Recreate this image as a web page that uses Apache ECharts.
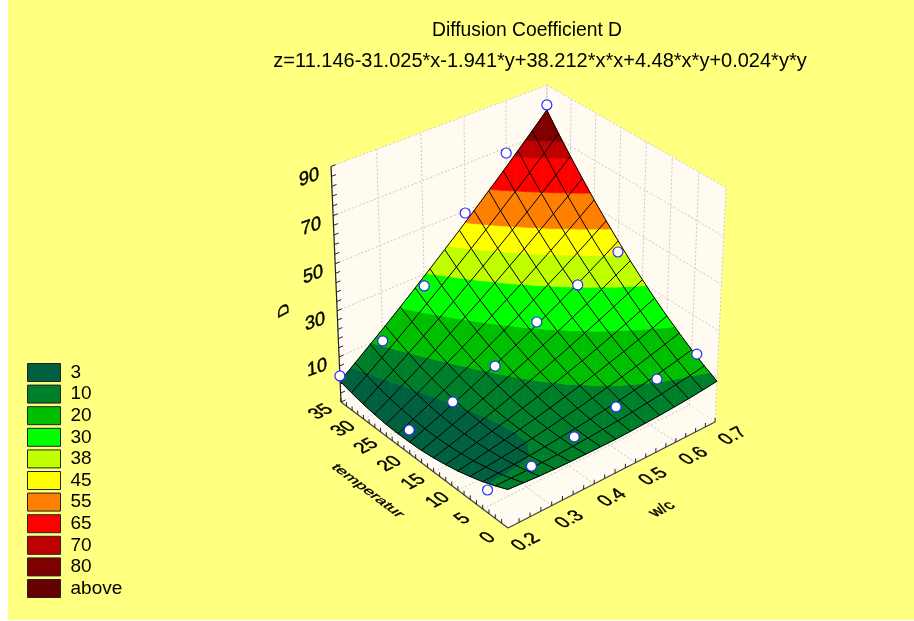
<!DOCTYPE html>
<html>
<head>
<meta charset="utf-8">
<title>Diffusion Coefficient D</title>
<script src="https://cdn.jsdelivr.net/npm/echarts@6/dist/echarts.min.js"></script>
<style>
html,body{margin:0;padding:0;background:#fff;overflow:hidden}
#chart{position:absolute;left:8px;top:0;width:906px;height:620px}
</style>
</head>
<body>
<div id="chart"></div>
<script>
var titleText = 'Diffusion Coefficient D';
var formulaText = 'z=11.146-31.025*x-1.941*y+38.212*x*x+4.48*x*y+0.024*y*y';

// surface read on the mesh: one row per temperatur, one column per w/c step
var meshWc = [0.2,0.2357,0.2714,0.3071,0.3429,0.3786,0.4143,0.45,0.4857,0.5214,0.5571,0.5929,0.6286,0.6643,0.7];
var meshTemp = [0,2.5,5,7.5,10,12.5,15,17.5,20,22.5,25,27.5,30,32.5,35];
var meshD = [
  [6.5,6.0,5.5,5.2,5.0,4.9,4.9,4.9,5.1,5.4,5.7,6.2,6.7,7.4,8.2],
  [4.0,3.9,3.9,4.0,4.1,4.4,4.8,5.3,5.8,6.5,7.3,8.1,9.1,10.1,11.3],
  [1.8,2.1,2.5,3.0,3.6,4.3,5.0,5.9,6.9,7.9,9.1,10.4,11.7,13.2,14.7],
  [0.0,0.7,1.5,2.3,3.3,4.4,5.6,6.8,8.2,9.7,11.2,12.9,14.7,16.5,18.5],
  [-1.6,-0.5,0.7,2.0,3.4,4.8,6.4,8.1,9.8,11.7,13.7,15.7,17.9,20.1,22.5],
  [-2.8,-1.4,0.2,1.9,3.7,5.6,7.5,9.6,11.8,14.0,16.4,18.9,21.4,24.1,26.8],
  [-3.8,-1.9,0.1,2.1,4.3,6.6,9.0,11.5,14.0,16.7,19.5,22.3,25.3,28.3,31.5],
  [-4.5,-2.2,0.2,2.7,5.3,7.9,10.7,13.6,16.6,19.6,22.8,26.0,29.4,32.9,36.4],
  [-4.8,-2.1,0.6,3.5,6.5,9.6,12.8,16.0,19.4,22.9,26.4,30.1,33.8,37.7,41.7],
  [-4.9,-1.8,1.4,4.7,8.0,11.5,15.1,18.8,22.5,26.4,30.4,34.4,38.6,42.8,47.2],
  [-4.7,-1.2,2.4,6.1,9.9,13.7,17.7,21.8,26.0,30.2,34.6,39.1,43.6,48.3,53.0],
  [-4.1,-0.2,3.8,7.8,12.0,16.3,20.7,25.1,29.7,34.4,39.1,44.0,49.0,54.0,59.2],
  [-3.3,1.0,5.4,9.9,14.5,19.1,23.9,28.8,33.7,38.8,44.0,49.2,54.6,60.1,65.6],
  [-2.1,2.5,7.3,12.2,17.2,22.3,27.4,32.7,38.1,43.5,49.1,54.8,60.5,66.4,72.3],
  [-0.7,4.4,9.6,14.8,20.2,25.7,31.3,37.0,42.7,48.6,54.6,60.6,66.8,73.0,79.4]
];

// measured points
var pointWc = [0.2,0.3,0.4,0.5,0.6,0.7];
var pointTemp = [4,20,35];
var pointD = [
  [-0.2,0.7,4.2,8.3,11.8,14.3],
  [0.5,3.9,11,22,30.2,36.9],
  [1.6,8.7,24.9,49.1,67.8,81.6]
];

var bandNames = ['3','10','20','30','38','45','55','65','70','80','above'];
var bandTops = [3,10,20,30,38,45,55,65,70,80,1000];
var bandColors = ['#006040','#007f2b','#00bf00','#00ff00','#bfff00','#ffff00','#ff8000','#ff0000','#bf0000','#800000','#660000'];

var wcTicks = [0.2,0.3,0.4,0.5,0.6,0.7];
var tempTicks = [0,5,10,15,20,25,30,35];
var dTicks = [10,30,50,70,90];
var wcRange = [0.2,0.7];
var tempRange = [0,35];
var dRange = [-10,90];

// camera: 3d box -> window pixels
function project(wc, temp, d) {
  var u = (wc - wcRange[0]) / (wcRange[1] - wcRange[0]);
  var v = (temp - tempRange[0]) / (tempRange[1] - tempRange[0]);
  var w = (d - dRange[0]) / (dRange[1] - dRange[0]);
  var h = 1 + 0.07 * u + 0.07 * v - 0.0569 * w;
  return [
    (508 + 257.05 * u - 143.13 * v - 29.5 * w) / h,
    (528 - 76.46 * u - 97.86 * v - 261.5 * w) / h
  ];
}

var font = '"Liberation Sans", Arial, sans-serif';
var FAINT = '#c8c8c8';

function polyFrom(api, pts, style) {
  return {
    type: 'polygon',
    shape: { points: pts.map(function(p){ return api.coord(project(p[0], p[1], p[2])); }) },
    style: style
  };
}
function lineFrom(api, a, b, stroke, width, dash) {
  var p = api.coord(project(a[0], a[1], a[2]));
  var q = api.coord(project(b[0], b[1], b[2]));
  return {
    type: 'line',
    shape: { x1: p[0], y1: p[1], x2: q[0], y2: q[1] },
    style: { stroke: stroke, lineWidth: width, lineDash: dash || null, fill: null }
  };
}

function renderBox(params, api) {
  var x0 = wcRange[0], x1 = wcRange[1], y0 = tempRange[0], y1 = tempRange[1], z0 = dRange[0], z1 = dRange[1];
  var wall = { fill: '#fffbf0', stroke: '#cfcfc0', lineWidth: 1, lineDash: [2, 2] };
  var kids = [
    polyFrom(api, [[x0,y1,z0],[x1,y1,z0],[x1,y1,z1],[x0,y1,z1]], wall),
    polyFrom(api, [[x1,y0,z0],[x1,y1,z0],[x1,y1,z1],[x1,y0,z1]], wall),
    polyFrom(api, [[x0,y0,z0],[x1,y0,z0],[x1,y1,z0],[x0,y1,z0]], { fill: '#fffbf0' })
  ];
  var dash = [2, 2];
  wcTicks.slice(1, -1).forEach(function(t){
    kids.push(lineFrom(api, [t,y0,z0], [t,y1,z0], FAINT, 1, dash));
    kids.push(lineFrom(api, [t,y1,z0], [t,y1,z1], FAINT, 1, dash));
  });
  tempTicks.slice(1, -1).forEach(function(t){
    kids.push(lineFrom(api, [x0,t,z0], [x1,t,z0], FAINT, 1, dash));
    kids.push(lineFrom(api, [x1,t,z0], [x1,t,z1], FAINT, 1, dash));
  });
  dTicks.slice(0, -1).forEach(function(t){
    kids.push(lineFrom(api, [x0,y1,t], [x1,y1,t], FAINT, 1, dash));
    kids.push(lineFrom(api, [x1,y1,t], [x1,y0,t], FAINT, 1, dash));
  });
  kids.push(lineFrom(api, [x1,y1,z0], [x1,y1,z1], FAINT, 1, dash));

  // axis lines and ticks
  var ink = '#222';
  kids.push(lineFrom(api, [x0,y1,z0], [x0,y1,z1], ink, 1.2));
  kids.push(lineFrom(api, [x0,y0,z0], [x0,y1,z0], '#444', 1.3));
  kids.push(lineFrom(api, [x0,y0,z0], [x1,y0,z0], '#444', 1.3));
  for (var z = z0; z <= z1; z += 4) {
    kids.push(lineFrom(api, [x0,y1,z], [x0 + 0.01,y1,z], ink, 1));
  }
  for (var t = y0 + 1.25; t <= y1; t += 1.25) {
    kids.push(lineFrom(api, [x0,t,z0], [x0,t,z0 + 1.8], ink, 1));
  }
  for (var i = 1; i <= 20; i++) {
    var c = x0 + i * 0.025;
    kids.push(lineFrom(api, [c,y0,z0], [c,y0,z0 + 1.8], ink, 1));
  }
  return { type: 'group', children: kids };
}

// keep the part of a triangle that lies between lo and hi
function clipTri(tri, lo, hi) {
  function cut(poly, limit, keepAbove) {
    var out = [];
    for (var i = 0; i < poly.length; i++) {
      var a = poly[i], b = poly[(i + 1) % poly.length];
      var ina = keepAbove ? a[2] >= limit : a[2] <= limit;
      var inb = keepAbove ? b[2] >= limit : b[2] <= limit;
      if (ina) out.push(a);
      if (ina !== inb) {
        var k = (limit - a[2]) / (b[2] - a[2]);
        out.push([a[0] + k * (b[0] - a[0]), a[1] + k * (b[1] - a[1]), limit]);
      }
    }
    return out;
  }
  var p = cut(tri, lo, true);
  return p.length ? cut(p, hi, false) : p;
}

function bandSeries(idx) {
  var lo = idx === 0 ? -1000 : bandTops[idx - 1];
  var hi = bandTops[idx];
  var cells = [];
  for (var j = 0; j < meshTemp.length - 1; j++) {
    for (var i = 0; i < meshWc.length - 1; i++) cells.push([i, j]);
  }
  return {
    type: 'custom',
    name: bandNames[idx],
    coordinateSystem: 'cartesian2d',
    silent: true,
    clip: false,
    z: 3,
    animation: false,
    itemStyle: { color: bandColors[idx] },
    data: cells,
    renderItem: function(params, api) {
      var i = api.value(0), j = api.value(1);
      function node(a, b) { return [meshWc[a], meshTemp[b], meshD[b][a]]; }
      var tris = [
        [node(i, j), node(i + 1, j), node(i + 1, j + 1)],
        [node(i, j), node(i + 1, j + 1), node(i, j + 1)]
      ];
      var kids = [];
      tris.forEach(function(tri) {
        var poly = clipTri(tri, lo, hi);
        if (poly.length > 2) {
          kids.push(polyFrom(api, poly, { fill: bandColors[idx], stroke: bandColors[idx], lineWidth: 0.7 }));
        }
      });
      return { type: 'group', children: kids };
    }
  };
}

function renderMesh(params, api) {
  var kids = [];
  function path(points) {
    return {
      type: 'polyline',
      shape: { points: points.map(function(p){ return api.coord(project(p[0], p[1], p[2])); }) },
      style: { stroke: '#000', lineWidth: 1, fill: null }
    };
  }
  meshTemp.forEach(function(t, j) {
    kids.push(path(meshWc.map(function(c, i){ return [c, t, meshD[j][i]]; })));
  });
  meshWc.forEach(function(c, i) {
    kids.push(path(meshTemp.map(function(t, j){ return [c, t, meshD[j][i]]; })));
  });
  return { type: 'group', children: kids };
}

// text lying in a plane of the box: ex is the baseline direction, ey the glyph down direction.
// the shear is split into rotation, scale, rotation so nested groups can carry it
function planeText(str, x, y, ex, ey, k1, k2, size) {
  var m00 = ex[0] * k1, m10 = ex[1] * k1, m01 = ey[0] * k2, m11 = ey[1] * k2;
  var E = (m00 + m11) / 2, F = (m00 - m11) / 2, G = (m10 + m01) / 2, H = (m10 - m01) / 2;
  var Q = Math.sqrt(E * E + H * H), R = Math.sqrt(F * F + G * G);
  var a1 = Math.atan2(G, F), a2 = Math.atan2(H, E);
  return {
    type: 'group', x: x, y: y,
    rotation: -(a2 + a1) / 2, scaleX: Q + R, scaleY: Q - R,
    children: [{
      type: 'text', rotation: -(a2 - a1) / 2,
      style: { text: str, fill: '#000', stroke: '#000', lineWidth: 0.35, font: size + 'px ' + font, align: 'center', verticalAlign: 'middle' }
    }]
  };
}

function renderAxisText(params, api) {
  var kids = [];
  var floorX = [0.89, -0.456], floorDown = [0.8, 0.6];
  var wallX = [0.94, -0.34], wallDown = [0.04, 1];
  var x0 = wcRange[0], y0 = tempRange[0], y1 = tempRange[1], z0 = dRange[0];
  function at(pos, dx, dy) { var p = api.coord(pos); return [p[0] + dx, p[1] + dy]; }
  dTicks.forEach(function(d){
    var p = at(project(x0, y1, d), -22, 11);
    kids.push(planeText(String(d), p[0], p[1], wallX, wallDown, 1.2, 1.2, 16));
  });
  tempTicks.forEach(function(t){
    var p = at(project(x0, t, z0), -20, 10);
    kids.push(planeText(String(t), p[0], p[1], floorX, floorDown, 1.1, 1.25, 16));
  });
  wcTicks.forEach(function(c){
    var p = at(project(c, y0, z0), 18, 14);
    kids.push(planeText(c.toFixed(1), p[0], p[1], floorX, floorDown, 1.1, 1.25, 16));
  });
  var pd = at(project(x0, y1, 30), -53, -1);
  kids.push(planeText('D', pd[0], pd[1], [-0.04, -1], [0.88, -0.475], 1.2, 1.2, 14));
  var pt = at(project(x0, 15, z0), -66, 19);
  kids.push(planeText('temperatur', pt[0], pt[1], [0.8, 0.6], [-0.89, 0.456], 1.25, 0.95, 14));
  var pw = at(project(0.45, y0, z0), 47, 36);
  kids.push(planeText('w/c', pw[0], pw[1], floorX, floorDown, 1.1, 1.2, 14));
  return { type: 'group', children: kids };
}

var points = [];
pointTemp.forEach(function(t, j) {
  pointWc.forEach(function(c, i) {
    points.push(project(c, t, pointD[j][i]));
  });
});

var series = [{
  type: 'custom', coordinateSystem: 'cartesian2d', silent: true, clip: false, z: 2,
  data: [0], renderItem: renderBox
}];
bandNames.forEach(function(n, idx){ series.push(bandSeries(idx)); });
series.push({
  type: 'custom', coordinateSystem: 'cartesian2d', silent: true, clip: false, z: 4,
  data: [0], renderItem: renderMesh
});
series.push({
  type: 'scatter', silent: true, z: 5, symbolSize: 10,
  itemStyle: { color: '#fff', borderColor: '#2a2aff', borderWidth: 1.2, opacity: 1 },
  data: points
});
series.push({
  type: 'custom', coordinateSystem: 'cartesian2d', silent: true, clip: false, z: 6,
  data: [0], renderItem: renderAxisText
});

var myChart = echarts.init(document.getElementById('chart'));
var option = {
  animation: false,
  backgroundColor: '#ffff80',
  title: [
    { text: titleText, left: 514, top: 16, textAlign: 'center',
      textStyle: { fontFamily: font, fontSize: 19.3, fontWeight: 'normal', color: '#000' } },
    { text: formulaText, left: 527, top: 46, textAlign: 'center',
      textStyle: { fontFamily: font, fontSize: 20, fontWeight: 'normal', color: '#000' } }
  ],
  legend: {
    left: 19, top: 363, padding: 0, orient: 'vertical', icon: 'rect', selectedMode: false,
    height: 300, itemWidth: 33, itemHeight: 18, itemGap: 2.6,
    textStyle: { fontFamily: font, fontSize: 19, lineHeight: 18, color: '#000', padding: [0, 0, 0, 5] },
    data: bandNames.map(function(n, idx){
      return { name: n, itemStyle: { color: bandColors[idx], borderColor: '#222', borderWidth: 1 } };
    })
  },
  grid: { left: 0, right: 0, top: 0, bottom: 0 },
  xAxis: { type: 'value', min: 8, max: 914, show: false },
  yAxis: { type: 'value', min: 0, max: 620, inverse: true, show: false },
  series: series
};
myChart.setOption(option);
</script>
</body>
</html>
